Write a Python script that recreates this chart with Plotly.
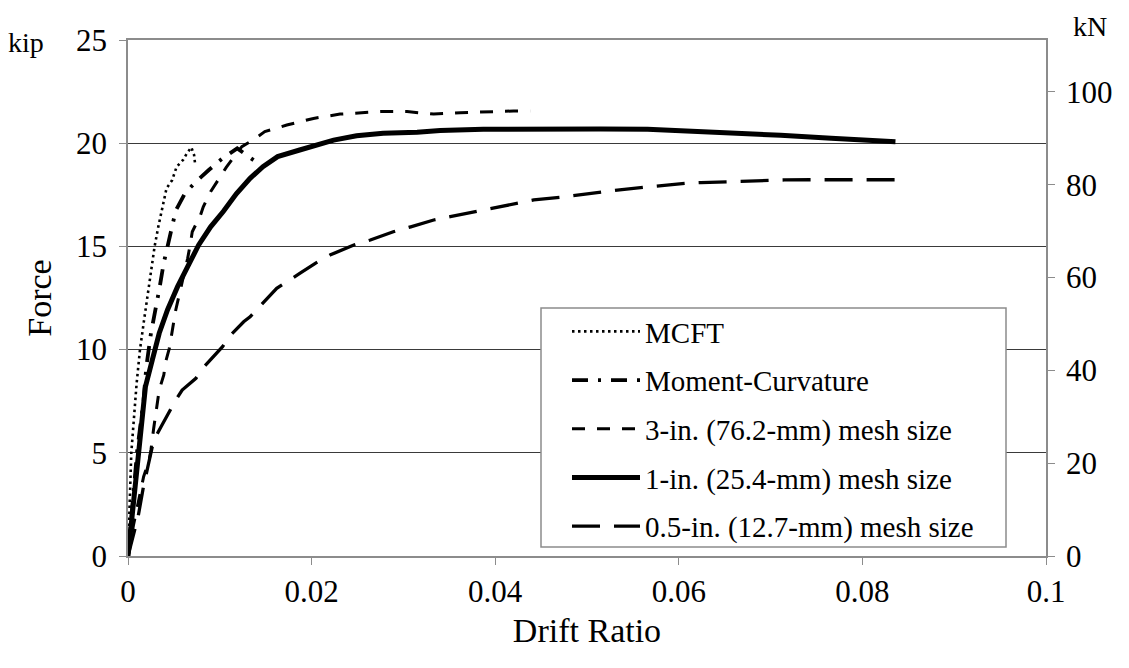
import plotly.graph_objects as go

KN_PER_KIP = 4.448

# MCFT (dotted)
mcft_x = [0, 0.0001, 0.00036, 0.00094, 0.0013, 0.00175, 0.0022, 0.00265, 0.0029, 0.0033,
          0.0038, 0.0042, 0.0048, 0.0053, 0.006, 0.0064, 0.0069, 0.0072, 0.0073]
mcft_y = [0, 1.5, 5.0, 8.37, 9.98, 11.43, 12.9, 14.18, 15.0, 15.95,
          17.09, 17.82, 18.2, 18.86, 19.19, 19.5, 19.8, 19.43, 19.03]

# Moment-Curvature (dash-dot)
mc_x = [0, 0.0005, 0.001, 0.0017, 0.002, 0.0025, 0.0029, 0.0034, 0.0039, 0.0046,
        0.0052, 0.0062, 0.0073, 0.0088, 0.0103, 0.0119, 0.0138]
mc_y = [0, 2.6, 5.1, 7.56, 9.17, 10.79, 11.68, 12.9, 14.21, 15.6,
        16.73, 17.57, 18.09, 18.7, 19.27, 19.75, 19.14]

# 3-in. (76.2-mm) mesh size (dashed)
m3_x = [0, 0.0006, 0.0014, 0.0017, 0.0023, 0.0025, 0.0028, 0.003, 0.0032, 0.0034,
        0.0039, 0.0041, 0.0045, 0.0047, 0.005, 0.0052, 0.0062, 0.0065, 0.0068, 0.007,
        0.0079, 0.0082, 0.009, 0.0096, 0.0107, 0.0113, 0.0124, 0.0135, 0.0149, 0.0173,
        0.0202, 0.0231, 0.0246, 0.0275, 0.0304, 0.0333, 0.0362, 0.0391, 0.042, 0.0438]
m3_y = [0, 1.5, 3.2, 3.84, 4.65, 5.14, 6.19, 6.83, 7.48, 8.04,
        8.77, 9.41, 10.06, 10.63, 11.35, 11.92, 13.86, 14.42, 15.15, 15.71,
        16.52, 16.92, 17.65, 18.09, 18.83, 19.19, 19.83, 20.12, 20.56, 20.88,
        21.2, 21.41, 21.45, 21.53, 21.53, 21.41, 21.48, 21.53, 21.56, 21.56]

# 1-in. (25.4-mm) mesh size (solid)
m1_x = [0, 0.00047, 0.00084, 0.0012, 0.00156, 0.0019, 0.00265, 0.0034, 0.0043, 0.0054,
        0.0065, 0.0077, 0.009, 0.0104, 0.0118, 0.0133, 0.0147, 0.0163, 0.0187, 0.0206,
        0.0224, 0.0249, 0.0278, 0.0315, 0.034, 0.0387, 0.0442, 0.0515, 0.0566, 0.0602,
        0.0656, 0.0711, 0.0766, 0.0836]
m1_y = [0, 2.07, 3.68, 5.3, 6.91, 8.2, 9.5, 10.79, 11.92, 13.05,
        14.02, 15.07, 15.95, 16.7, 17.55, 18.3, 18.86, 19.35, 19.67, 19.91,
        20.15, 20.36, 20.48, 20.53, 20.61, 20.67, 20.69, 20.69, 20.67, 20.61,
        20.48, 20.38, 20.24, 20.07]

# 0.5-in. (12.7-mm) mesh size (long dash)
m05_x = [0, 0.0005, 0.0011, 0.0017, 0.0023, 0.0028, 0.0036, 0.0045, 0.0052, 0.0059,
         0.0074, 0.0083, 0.0103, 0.0112, 0.0126, 0.0133, 0.0162, 0.01875, 0.0204, 0.022,
         0.0246, 0.0264, 0.0289, 0.0308, 0.0333, 0.0351, 0.0377, 0.0395, 0.0424, 0.0442,
         0.0471, 0.049, 0.0517, 0.0533, 0.0562, 0.0578, 0.0609, 0.0624, 0.0655, 0.0669,
         0.0702, 0.0715, 0.0747, 0.0762, 0.0793, 0.0807, 0.0836]
m05_y = [0, 0.9, 1.9, 3.4, 4.6, 5.6, 6.26, 6.99, 7.56, 8.04,
         8.61, 9.17, 10.14, 10.71, 11.35, 11.59, 12.97, 13.7, 14.18, 14.58,
         15.07, 15.31, 15.71, 15.95, 16.28, 16.44, 16.68, 16.84, 17.09, 17.25,
         17.38, 17.49, 17.65, 17.73, 17.86, 17.93, 18.06, 18.09, 18.14, 18.17,
         18.2, 18.22, 18.23, 18.23, 18.23, 18.23, 18.23]

names = ["MCFT", "Moment-Curvature", "3-in. (76.2-mm) mesh size",
         "1-in. (25.4-mm) mesh size", "0.5-in. (12.7-mm) mesh size"]

x_ticks = [0, 0.02, 0.04, 0.06, 0.08, 0.1]
x_tick_labels = ["0", "0.02", "0.04", "0.06", "0.08", "0.1"]
kip_ticks = [0, 5, 10, 15, 20, 25]
kn_ticks = [0, 20, 40, 60, 80, 100]

FONT = "Liberation Serif"
FS = 28
TICK_FS = 31
LEG_FS = 29

fig = go.Figure()
series = [
    (mcft_x, mcft_y, dict(color="black", width=2.6, dash="2.5px,3.5px")),
    (mc_x, mc_y, dict(color="black", width=3.8, dash="16px,10px,3px,10px")),
    (m3_x, m3_y, dict(color="black", width=3, dash="13px,12px")),
    (m1_x, m1_y, dict(color="black", width=5)),
    (m05_x, m05_y, dict(color="black", width=3.3, dash="28px,14px")),
]
for i, (xs, ys, ln) in enumerate(series):
    fig.add_trace(go.Scatter(x=xs, y=ys, mode="lines", name=names[i], line=ln,
                             legendgroup=f"g{i}"))

# invisible trace to carry the kN axis
fig.add_trace(go.Scatter(x=m1_x, y=[v * KN_PER_KIP for v in m1_y], yaxis="y2",
                         mode="lines", line=dict(width=0), opacity=0,
                         showlegend=False, hoverinfo="skip"))

axis_line = "#8c8c8c"
# page body has an 8px margin, so the figure is offset by 8px
W, H = 1121, 660
L, T = 120, 32
PR, PB = 1038, 548   # plot right / bottom in figure pixels
pw, ph = PR - L, PB - T


def px_x(p):
    return (p - 8 - L) / pw


def px_y(p):
    return (PB - (p - 8)) / ph


fig.update_layout(
    width=W, height=H,
    margin=dict(l=L, r=W - PR, t=T, b=H - PB),
    paper_bgcolor="white", plot_bgcolor="white",
    font=dict(family=FONT, size=FS, color="black"),
    showlegend=True,
    xaxis=dict(range=[0, 0.1], tickvals=x_ticks, ticktext=x_tick_labels,
               ticks="outside", ticklen=7, tickcolor=axis_line,
               tickfont=dict(size=TICK_FS),
               showline=True, linecolor=axis_line, linewidth=1.5, mirror=True,
               showgrid=False, zeroline=False,
               title=dict(text="Drift Ratio", standoff=10)),
    yaxis=dict(range=[0, 25], tickvals=kip_ticks,
               ticks="outside", ticklen=7, tickcolor=axis_line,
               tickfont=dict(size=TICK_FS), ticklabelstandoff=6,
               showline=True, linecolor=axis_line, linewidth=1.5,
               showgrid=True, gridcolor="#3a3a3a", gridwidth=1, zeroline=False,
               title=dict(text="Force", standoff=14)),
    yaxis2=dict(range=[0, 25 * KN_PER_KIP], tickvals=kn_ticks, overlaying="y",
                side="right", ticks="outside", ticklen=7, tickcolor=axis_line,
                tickfont=dict(size=TICK_FS), ticklabelstandoff=5,
                showline=True, linecolor=axis_line, linewidth=1.5,
                showgrid=False, zeroline=False),
    shapes=[dict(type="rect", xref="paper", yref="paper",
                 x0=px_x(541), x1=px_x(1006), y0=px_y(547), y1=px_y(308),
                 line=dict(color="#8c8c8c", width=1.5), fillcolor="white",
                 layer="above")],
    legend=dict(x=px_x(567), y=px_y(306), xanchor="left", yanchor="top",
                bgcolor="rgba(0,0,0,0)", borderwidth=0,
                font=dict(family=FONT, size=LEG_FS), itemwidth=68,
                tracegroupgap=8, traceorder="grouped"),
    annotations=[
        dict(text="kip", xref="paper", yref="paper", x=px_x(26), y=px_y(42),
             xanchor="center", yanchor="middle", showarrow=False,
             font=dict(family=FONT, size=FS)),
        dict(text="kN", xref="paper", yref="paper", x=px_x(1090), y=px_y(27),
             xanchor="center", yanchor="middle", showarrow=False,
             font=dict(family=FONT, size=FS)),
    ],
)

fig.write_html("out.html")
